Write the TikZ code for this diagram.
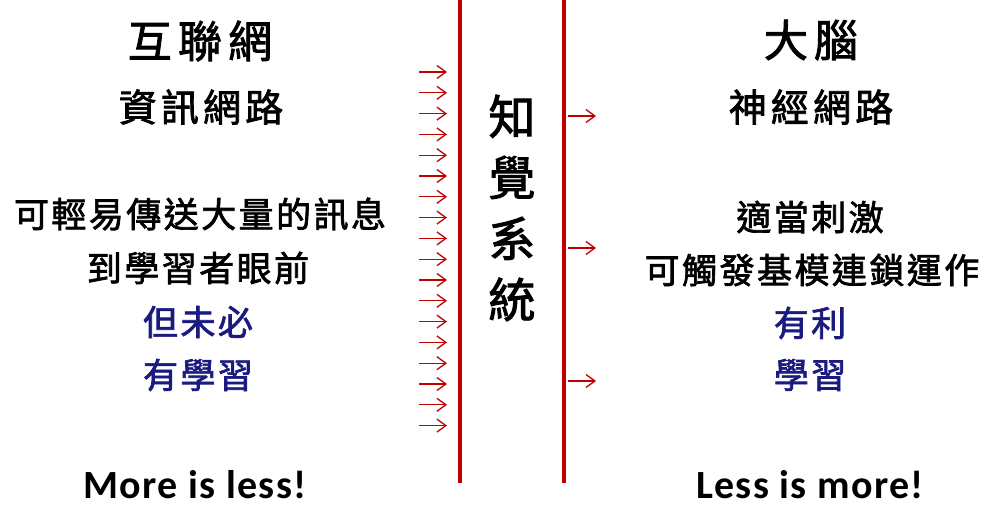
\documentclass[tikz,border=0pt]{standalone}
\usepackage{fontspec}
\newfontfamily\cjkTitle[LetterSpace=14,FakeBold=2]{Noto Sans CJK TC}
\newfontfamily\cjkSub[LetterSpace=11,FakeBold=2]{Noto Sans CJK TC}
\newfontfamily\cjkBody[LetterSpace=7,FakeBold=2]{Noto Sans CJK TC}
\newfontfamily\cjkVert[FakeBold=2]{Noto Sans CJK TC}
\newfontfamily\latinfont[LetterSpace=3.5]{Carlito}
\usetikzlibrary{arrows.meta}
\definecolor{lnred}{RGB}{192,0,0}
\definecolor{navytext}{RGB}{26,26,128}
\tikzset{
  titletext/.style={inner sep=0pt, font=\cjkTitle\fontsize{44}{50}\selectfont},
  subtext/.style={inner sep=0pt, font=\cjkSub\fontsize{38}{42}\selectfont},
  bodytext/.style={inner sep=0pt, font=\cjkBody\fontsize{35}{40}\selectfont},
  bluetext/.style={bodytext, text=navytext},
  verttext/.style={inner sep=0pt, align=center, font=\cjkVert\fontsize{47}{61}\selectfont},
  mottotext/.style={inner sep=0pt, anchor=base, text depth=0pt, font=\latinfont\bfseries\fontsize{40}{44}\selectfont},
  divider/.style={draw=lnred, line width=3.5pt},
  inarrow/.style={draw=lnred, line width=1.3pt, -{Straight Barb[length=9pt,width=13pt,line width=1.3pt]}},
}
\begin{document}
\begin{tikzpicture}[x=1pt,y=-1pt]
\useasboundingbox (0,0) rectangle (982,505);
% dividers
\coordinate (d1t) at (460,0);
\coordinate (d1b) at (460,483);
\coordinate (d2t) at (564,0);
\coordinate (d2b) at (564,483);
\draw[divider] (d1t) -- (d1b);
\draw[divider] (d2t) -- (d2b);
% left column
\node[titletext] (t1) at (200,41) {互聯網};
\node[subtext] (t2) at (201,107) {資訊網路};
\node[bodytext] (l1) at (200,214) {可輕易傳送大量的訊息};
\node[bodytext] (l2) at (198,268) {到學習者眼前};
\node[bluetext] (l3) at (198,322) {但未必};
\node[bluetext] (l4) at (198,375) {有學習};
\node[mottotext] (ml) at (195,498) {More is less!};
% middle
\node[verttext] (v) at (512,208) {知\\覺\\系\\統};
% right column
\node[titletext] (r0) at (811,40) {大腦};
\node[subtext] (r1) at (811,107) {神經網路};
\node[bodytext] (r2) at (810,217) {適當刺激};
\node[bodytext] (r3) at (812,270) {可觸發基模連鎖運作};
\node[bluetext] (r4) at (810,323) {有利};
\node[bluetext] (r5) at (810,375) {學習};
\node[mottotext] (mr) at (810,498) {Less is more!};
% incoming arrows
\foreach \i in {0,...,17}{
  \coordinate (a\i s) at (419,{72+20.8*\i});
  \coordinate (a\i e) at (447,{72+20.8*\i});
  \draw[inarrow] (a\i s) -- (a\i e);
}
% outgoing arrows
\foreach \i/\yy in {0/116,1/248,2/381}{
  \coordinate (b\i s) at (568,\yy);
  \coordinate (b\i e) at (596,\yy);
  \draw[inarrow] (b\i s) -- (b\i e);
}
\end{tikzpicture}
\end{document}
